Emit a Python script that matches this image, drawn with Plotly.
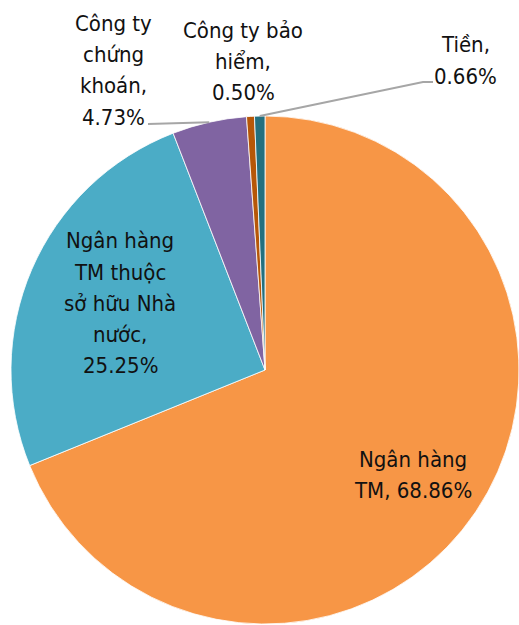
import math
import plotly.graph_objects as go

labels = ["Ngân hàng TM", "Ngân hàng TM thuộc sở hữu Nhà nước", "Công ty chứng khoán",
          "Công ty bảo hiểm", "Tiền"]
values = [68.86, 25.25, 4.73, 0.50, 0.66]
colors = ["#F79646", "#4BACC6", "#8064A2", "#B65708", "#23707F"]
label_lines = [["Ngân hàng", "TM, 68.86%"],
               ["Ngân hàng", "TM thuộc", "sở hữu Nhà", "nước,", "25.25%"],
               ["Công ty", "chứng", "khoán,", "4.73%"],
               ["Công ty bảo", "hiểm,", "0.50%"],
               ["Tiền,", "0.66%"]]

W, H = 519, 625
dom_x = [11 / W, 1.0]
dom_y = [0.0, 510 / H]

fig = go.Figure(go.Pie(
    labels=labels, values=values, sort=False, direction="clockwise", rotation=0,
    marker=dict(colors=colors, line=dict(color="white", width=0.8)),
    textinfo="none", hoverinfo="label+percent", showlegend=False,
    domain=dict(x=dom_x, y=dom_y),
))

# pie geometry in pixels (derived from domain)
dw = (dom_x[1] - dom_x[0]) * W
dh = (dom_y[1] - dom_y[0]) * H
R = min(dw, dh) / 2
cx = (dom_x[0] + dom_x[1]) / 2 * W
cy = H - (dom_y[0] + dom_y[1]) / 2 * H  # from top

total = sum(values)
mids = []
cum = 0
for v in values:
    mids.append((cum + v / 2) / total * 2 * math.pi)
    cum += v

def edge_pt(i):
    a = mids[i]
    return cx + R * math.sin(a), cy - R * math.cos(a)

def px(x):
    return x / W

def py(y):
    return 1 - y / H

# label block positions: (center x, first line y) in pixels
label_pos = [(413, 458), (120, 240), (113, 23), (243, 29), (465, 44)]
line_gap = 31
font = dict(family="DejaVu Sans Condensed, Liberation Sans Narrow, Roboto, sans-serif",
            size=22, color="#111111")
for lines, (x, y0) in zip(label_lines, label_pos):
    for k, t in enumerate(lines):
        fig.add_annotation(x=px(x), y=py(y0 + k * line_gap + 1), xref="paper", yref="paper",
                           text=t, showarrow=False, xanchor="center", yanchor="middle",
                           align="center", font=font)

# leader lines
lc = "#A6A6A6"
ex, ey = edge_pt(2)
fig.add_shape(type="path", xref="paper", yref="paper",
              path=f"M {px(148)},{py(124)} L {px(ex)},{py(ey)}",
              line=dict(color=lc, width=2))
ex, ey = edge_pt(4)
fig.add_shape(type="path", xref="paper", yref="paper",
              path=f"M {px(ex)},{py(ey)} L {px(423)},{py(82)} L {px(433)},{py(82)}",
              line=dict(color=lc, width=2))

fig.update_layout(width=W, height=H, margin=dict(l=0, r=0, t=0, b=0),
                  paper_bgcolor="white", plot_bgcolor="white")
fig.write_html("out.html")
